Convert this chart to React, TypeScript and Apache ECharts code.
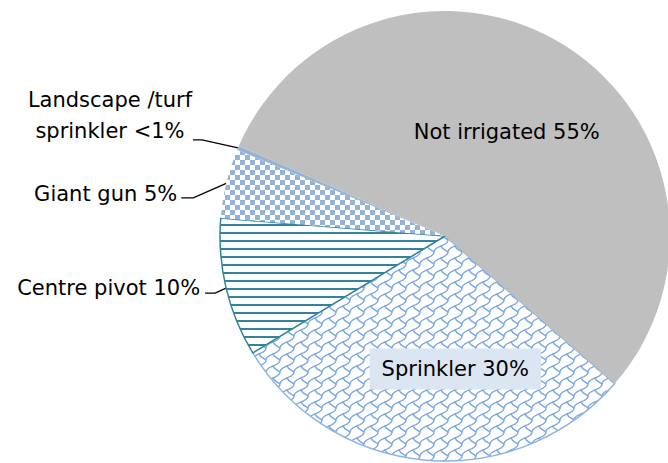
import { useEffect, useRef } from 'react';
import * as echarts from 'echarts';

// ---- data ----
const categories = ['Sprinkler', 'Centre pivot', 'Giant gun', 'Landscape /turf sprinkler', 'Not irrigated'];
const values = [30, 10, 5, 0.3, 55];
const labelTexts = ['Sprinkler 30%', 'Centre pivot 10%', 'Giant gun 5%', 'Landscape /turf\nsprinkler <1%', 'Not irrigated 55%'];

// ---- label placement (relative offsets) ----
type Lay =
  | { kind: 'inside'; dx: number; dy: number }
  | { kind: 'outside'; bend: number[]; end: number[]; text: number[]; align: string };
const LAYOUT: Lay[] = [
  { kind: 'inside', dx: 20, dy: 18 },
  { kind: 'outside', bend: [-11, 5], end: [-21, 5], text: [-5, -5.5], align: 'right' },
  { kind: 'outside', bend: [-33, 14.5], end: [-45, 14.5], text: [-4, -4.3], align: 'right' },
  { kind: 'outside', bend: [-36, -8], end: [-45, -8], text: [-83, -24], align: 'center' },
  { kind: 'inside', dx: 0, dy: -6 },
];

function tile(w: number, h: number, draw: (ctx: CanvasRenderingContext2D, ox: number, oy: number) => void, bg = '#ffffff') {
  const c = document.createElement('canvas');
  c.width = w;
  c.height = h;
  const ctx = c.getContext('2d')!;
  ctx.fillStyle = bg;
  ctx.fillRect(0, 0, w, h);
  for (let i = -1; i <= 1; i++) for (let j = -1; j <= 1; j++) draw(ctx, i * w, j * h);
  return { image: c, repeat: 'repeat', imageWidth: w, imageHeight: h } as any;
}

export default function App() {
  const ref = useRef<HTMLDivElement>(null);
  useEffect(() => {
    document.body.style.margin = '0';
    if (!ref.current) return;
    const chart = echarts.init(ref.current, null, { renderer: 'svg' });

    const checker = tile(10, 10, (ctx, ox, oy) => {
      ctx.fillStyle = '#95B3D7';
      ctx.fillRect(ox, oy, 5, 5);
      ctx.fillRect(ox + 5, oy + 5, 5, 5);
    });
    const hlines = tile(8, 8, (ctx, ox, oy) => {
      ctx.fillStyle = '#31849B';
      ctx.fillRect(ox, oy, 8, 2);
    });
    const shingle = tile(14, 12, (ctx, ox, oy) => {
      ctx.strokeStyle = '#7AA6DE';
      ctx.lineWidth = 1.4;
      ctx.beginPath();
      ctx.moveTo(ox + 0, oy + 12);
      ctx.bezierCurveTo(ox + 0, oy + 8, ox + 5, oy + 7, ox + 7, oy + 6);
      ctx.bezierCurveTo(ox + 9, oy + 5, ox + 14, oy + 4, ox + 14, oy + 0);
      ctx.moveTo(ox + 7, oy + 6);
      ctx.bezierCurveTo(ox + 8, oy + 9, ox + 11, oy + 10, ox + 14, oy + 12);
      ctx.stroke();
    });

    const styles = [
      { color: shingle, borderColor: '#8DB4E2', borderWidth: 1.5 },
      { color: hlines, borderColor: '#31849B', borderWidth: 1.5 },
      { color: checker, borderWidth: 0 },
      { color: '#95B3D7', borderWidth: 0 },
      { color: '#BFBFBF', borderWidth: 0 },
    ];

    const data = categories.map((name, i) => {
      const inside = LAYOUT[i].kind === 'inside';
      return {
        name,
        value: values[i],
        itemStyle: styles[i],
        label: {
          show: true,
          position: inside ? 'inside' : 'outside',
          formatter: labelTexts[i],
          ...(i === 0 ? { backgroundColor: '#DCE6F2', padding: [10, 12], lineHeight: 21 } : {}),
        },
        labelLine: { show: !inside },
      };
    });

    chart.setOption({
      animation: false,
      series: [
        {
          type: 'pie',
          center: [445, 236],
          radius: 225,
          startAngle: 319,
          clockwise: true,
          avoidLabelOverlap: false,
          silent: true,
          emphasis: { disabled: true },
          label: {
            fontFamily: 'DejaVu Sans',
            fontSize: 21,
            color: '#000',
            lineHeight: 31,
          },
          labelLine: {
            lineStyle: { color: '#000', width: 1.3 },
          },
          labelLayout: (params: any) => {
            const c = LAYOUT[params.dataIndex];
            const r = params.labelRect;
            if (c.kind === 'inside') {
              return {
                x: r.x + r.width / 2 + c.dx,
                y: r.y + r.height / 2 + c.dy,
                align: 'center',
                verticalAlign: 'middle',
              };
            }
            const pts = params.labelLinePoints;
            if (!pts || !pts.length) return {};
            const p0 = pts[0];
            const bend = [p0[0] + c.bend[0], p0[1] + c.bend[1]];
            const end = [p0[0] + c.end[0], p0[1] + c.end[1]];
            return {
              x: end[0] + c.text[0],
              y: end[1] + c.text[1],
              align: c.align,
              verticalAlign: 'middle',
              labelLinePoints: [p0, bend, end],
            };
          },
          data,
        },
      ],
    });
    return () => chart.dispose();
  }, []);
  return <div ref={ref} style={{ width: 668, height: 463 }} />;
}
